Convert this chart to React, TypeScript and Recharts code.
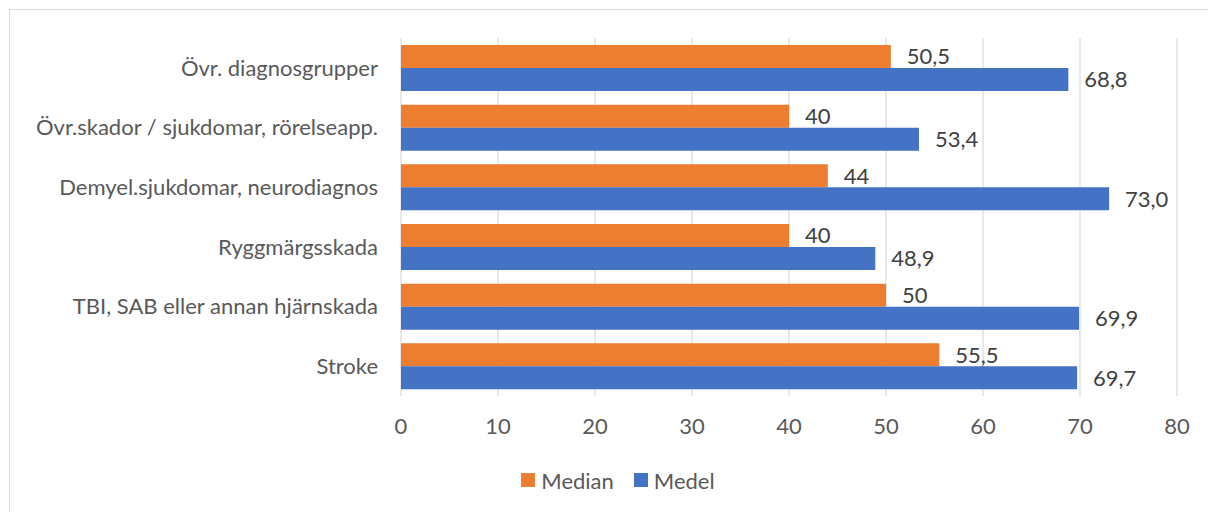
import { Bar, BarChart, XAxis, YAxis, CartesianGrid, LabelList, Legend } from "recharts"

const categories = [
  "Övr. diagnosgrupper",
  "Övr.skador / sjukdomar, rörelseapp.",
  "Demyel.sjukdomar, neurodiagnos",
  "Ryggmärgsskada",
  "TBI, SAB eller annan hjärnskada",
  "Stroke",
]
const median = [50.5, 40, 44, 40, 50, 55.5]
const medel = [68.8, 53.4, 73.0, 48.9, 69.9, 69.7]
const xTicks = [0, 10, 20, 30, 40, 50, 60, 70, 80]
const seriesOrder = ["Median", "Medel"]

const data = categories.map((name, i) => ({ name, median: median[i], medel: medel[i] }))

const fmtMedian = (v: any) => String(v).replace(".", ",")
const fmtMedel = (v: any) => Number(v).toFixed(1).replace(".", ",")

function LegendContent({ payload }: any) {
  const items = [...(payload || [])].sort(
    (a: any, b: any) => seriesOrder.indexOf(a.value) - seriesOrder.indexOf(b.value)
  )
  return (
    <div style={{ display: "flex", justifyContent: "center", alignItems: "center", height: 26 }}>
      {items.map((p: any, i: number) => (
        <div key={i} style={{ display: "flex", alignItems: "center", marginRight: i === 0 ? 20 : 0 }}>
          <span style={{ width: 14, height: 14, background: p.color, display: "inline-block", marginRight: 6 }} />
          <span style={{ fontSize: 22, color: "#595959" }}>{p.value}</span>
        </div>
      ))}
    </div>
  )
}

export default function App() {
  return (
    <div
      style={{
        position: "fixed",
        left: 0,
        top: 0,
        width: 1208,
        height: 512,
        overflow: "hidden",
        background: "#fff",
        fontFamily: "Lato",
      }}
    >
      {/* chart frame, its right and bottom edges lie outside the picture */}
      <div
        style={{
          position: "absolute",
          left: 9,
          top: 9,
          width: 1300,
          height: 700,
          border: "1px solid #d9d9d9",
        }}
      />
      <div style={{ position: "absolute", left: 8, top: 8 }}>
        <BarChart
          width={1192}
          height={496}
          data={data}
          layout="vertical"
          accessibilityLayer={false}
          margin={{ top: 30, right: 23, bottom: 11, left: 0 }}
          barGap={0}
          barSize={23}
        >
          <CartesianGrid horizontal={false} stroke="#d9d9d9" strokeWidth={1.2} />
          <XAxis
            type="number"
            domain={[0, 80]}
            ticks={xTicks}
            axisLine={false}
            tickLine={false}
            tickSize={0}
            tickMargin={22}
            height={71}
            tick={{ fill: "#595959", fontSize: 22 }}
          />
          <YAxis
            type="category"
            dataKey="name"
            width={393}
            interval={0}
            axisLine={false}
            tickLine={false}
            tickSize={0}
            tickMargin={23}
            tick={{ fill: "#595959", fontSize: 22 }}
          />
          <Legend
            verticalAlign="bottom"
            content={<LegendContent />}
            wrapperStyle={{ left: 0, width: 1220 }}
          />
          <Bar dataKey="median" name="Median" fill="#ED7D31" isAnimationActive={false}>
            <LabelList dataKey="median" position="right" offset={16} formatter={fmtMedian} fill="#404040" fontSize={22} />
          </Bar>
          <Bar dataKey="medel" name="Medel" fill="#4472C4" isAnimationActive={false}>
            <LabelList dataKey="medel" position="right" offset={16} formatter={fmtMedel} fill="#404040" fontSize={22} />
          </Bar>
        </BarChart>
      </div>
    </div>
  )
}
